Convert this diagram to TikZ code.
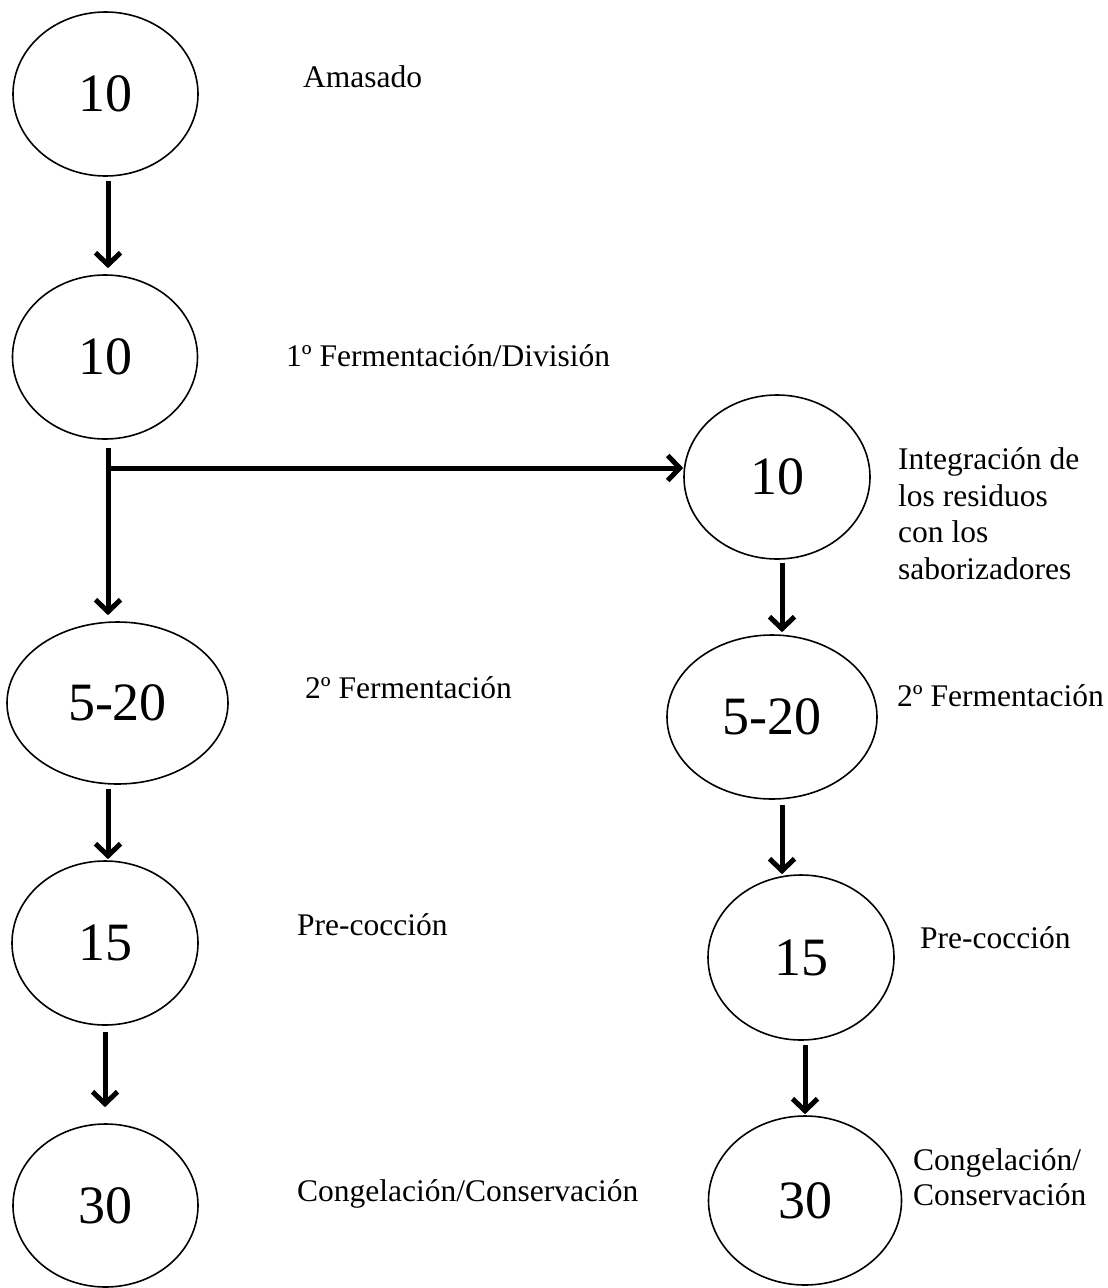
\documentclass[tikz,border=0pt]{standalone}
\usepackage{fontspec}
\setmainfont{Liberation Serif}
\usetikzlibrary{shapes.geometric,arrows.meta,calc}
\begin{document}
\begin{tikzpicture}[x=1pt,y=-1pt,
  ell/.style={ellipse, draw, line width=1.6pt, inner sep=0pt,
    font=\fontsize{54}{60}\selectfont},
  lab/.style={anchor=base west, inner sep=0pt, align=left,
    font=\fontsize{31.5}{36.5}\selectfont},
  arr/.style={line width=5pt, -{Straight Barb[length=12pt,width=25pt]}}]
\fill[white] (0,0) rectangle (1108,1288);
\useasboundingbox (0,0) rectangle (1108,1288);

% left column
\node[ell, minimum width=185pt, minimum height=164pt] (L1) at (105.5,94) {10};
\node[ell, minimum width=185pt, minimum height=164pt] (L2) at (105,357) {10};
\node[ell, minimum width=221pt, minimum height=162pt] (L3) at (117.5,703) {5-20};
\node[ell, minimum width=186pt, minimum height=164pt] (L4) at (105,943) {15};
\node[ell, minimum width=185pt, minimum height=163pt] (L5) at (105.5,1205.5) {30};

% right column
\node[ell, minimum width=186pt, minimum height=164pt] (R1) at (777,477) {10};
\node[ell, minimum width=210pt, minimum height=164pt] (R2) at (772,717) {5-20};
\node[ell, minimum width=186pt, minimum height=165pt] (R3) at (801,957.5) {15};
\node[ell, minimum width=193pt, minimum height=169pt] (R4) at (805,1200.5) {30};

% labels
\node[lab] (tA) at (303,87) {Amasado};
\node[lab] (tB) at (286,366) {1º Fermentación/División};
\node[lab] (tC) at (305,698) {2º Fermentación};
\node[lab] (tD) at (297,935) {Pre-cocción};
\node[lab] (tE) at (297,1201) {Congelación/Conservación};
\node[lab] (tF) at (898,579) {Integración de\\los residuos\\con los\\saborizadores};
\node[lab] (tG) at (897,706) {2º Fermentación};
\node[lab] (tH) at (920,948) {Pre-cocción};
\node[lab, font=\fontsize{31.5}{35}\selectfont] (tI) at (913,1205) {Congelación/\\Conservación};

% connectors, left
\coordinate (J) at (108,468);
\draw[arr] ($(J |- L1.south)+(0,4)$) -- ($(J |- L2.north)+(0,-6)$);
\draw[arr] ($(J |- L2.south)+(0,8)$) -- ($(J |- L3.north)+(0,-6)$);
\draw[arr] (J) -- (J -| R1.west);
\draw[arr] ($(J |- L3.south)+(0,4)$) -- ($(J |- L4.north)+(0,-1)$);
\coordinate (K) at (105,1000);
\draw[arr] ($(K |- L4.south)+(0,6)$) -- ($(K |- L5.north)+(0,-16)$);

% connectors, right
\coordinate (M) at (782,600);
\draw[arr] ($(M |- R1.south)+(0,3)$) -- ($(M |- R2.north)+(0,-2)$);
\draw[arr] ($(M |- R2.south)+(0,5)$) -- ($(M |- R3.north)+(0,0)$);
\coordinate (N) at (805,1080);
\draw[arr] ($(N |- R3.south)+(0,4)$) -- ($(N |- R4.north)+(0,-1)$);
\end{tikzpicture}
\end{document}
